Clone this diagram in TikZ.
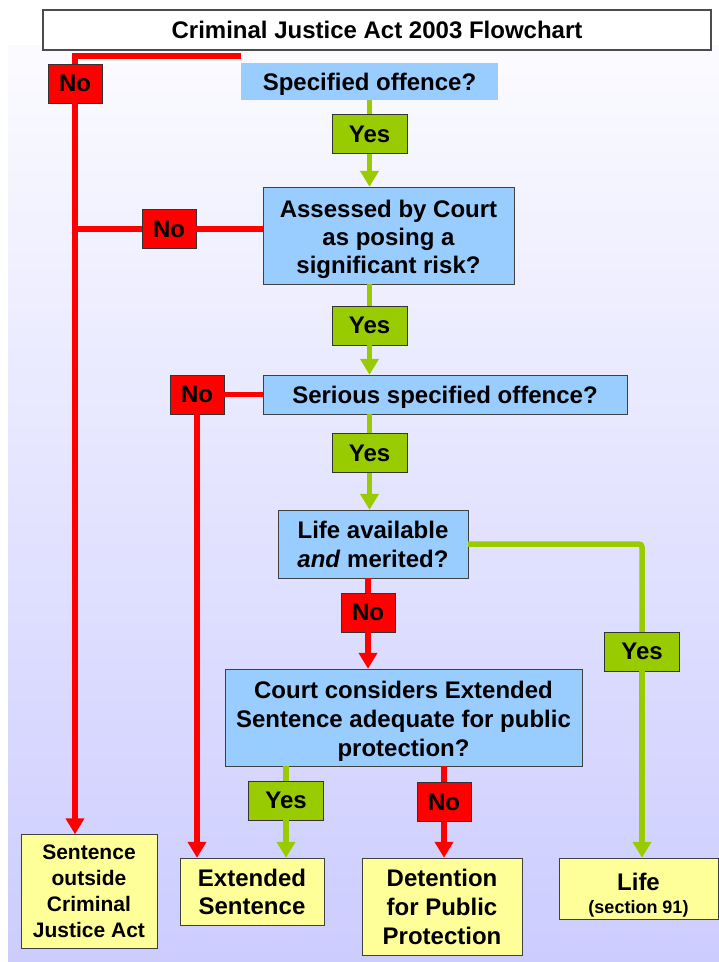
\documentclass[tikz,border=0pt]{standalone}
\usepackage{fontspec}
\setmainfont{Liberation Sans}
\usetikzlibrary{arrows.meta}

\definecolor{qblue}{HTML}{99CCFF}
\definecolor{ygreen}{HTML}{99CC00}
\definecolor{nred}{HTML}{FF0000}
\definecolor{ryellow}{HTML}{FFFF99}
\definecolor{bgtop}{HTML}{FBFBFF}
\definecolor{bgbottom}{HTML}{CCCCFF}

\begin{document}
\begin{tikzpicture}[x=1pt, y=-1pt, >={Triangle[width=18pt,length=16pt]}, font=\bfseries\fontsize{24}{29}\selectfont]
			\tikzstyle{question} = [draw=black!75, fill=qblue, align=center, inner sep=0pt, execute at begin node={\rule{0pt}{23pt}}]
			\tikzstyle{yes} = [draw=black!80, fill=ygreen, minimum width=75pt, minimum height=39pt, inner sep=0pt]
			\tikzstyle{no} = [draw=black!80, fill=nred, minimum width=54pt, minimum height=39pt, inner sep=0pt]
			\tikzstyle{result} = [draw=black!75, fill=ryellow, align=center, inner sep=0pt]
			\tikzstyle{nopath} = [line width=5.5pt, nred]
			\tikzstyle{yespath} = [line width=5.5pt, ygreen]
			\useasboundingbox (0,0) rectangle (719,962);
			\shade[top color=bgtop, bottom color=bgbottom] (8,45) rectangle (719,962);

			\node[draw=black!70, line width=1.5pt, fill=white, minimum width=668pt, minimum height=40pt] (title) at (377,30) {Criminal Justice Act 2003 Flowchart};
			\node[question, draw=none, minimum width=257pt, minimum height=37pt] (specified) at (369.5,81.5) {Specified offence?};
			\node[no] (no1) at (75,83.5) {No};
			\node[yes] (yes1) at (369.5,134) {Yes};
			\node[question, minimum width=251pt, minimum height=97pt] (risk) at (388.5,235.5) {\rule{0pt}{25.5pt}Assessed by Court\\[-1pt]as posing a\\[-1pt]significant risk?};
			\node[no] (no2) at (169,229) {No};
			\node[yes] (yes2) at (369.5,325.5) {Yes};
			\node[question, minimum width=364pt, minimum height=39pt] (serious) at (445,394.5) {Serious specified offence?};
			\node[no] (no3) at (197,394.5) {No};
			\node[yes] (yes3) at (369.5,453) {Yes};
			\node[question, minimum width=190pt, minimum height=68pt] (life) at (373,544) {Life available\\\textit{and} merited?};
			\node[no] (no4) at (368,612.5) {No};
			\node[yes] (yes4) at (642,651.5) {Yes};
			\node[question, minimum width=357pt, minimum height=97pt] (adequate) at (403.5,717.5) {\rule{0pt}{24pt}Court considers Extended\\Sentence adequate for public\\protection?};
			\node[yes] (yes5) at (286,800.5) {Yes};
			\node[no] (no5) at (444,802) {No};
			\node[result, minimum width=136pt, minimum height=114pt, font=\bfseries\fontsize{21}{26}\selectfont] (outside) at (89,891.5) {Sentence\\outside\\Criminal\\Justice Act};
			\node[result, minimum width=144pt, minimum height=67pt, font=\bfseries\fontsize{24}{28}\selectfont] (extended) at (252,891.5) {Extended\\Sentence};
			\node[result, minimum width=160pt, minimum height=97pt] (detention) at (442,906.5) {Detention\\for Public\\Protection};
			\node[result, minimum width=159pt, minimum height=61pt] (lifesec) at (638.5,888.5) {\rule{0pt}{30pt}Life\\[-6pt]{\fontsize{18}{22}\selectfont(section 91)}};
			\coordinate (nostart) at (241,56);

			\path
			(nostart) edge[nopath, to path={-| (\tikztotarget)}] (no1)
			(no1) edge[nopath, ->] (no1 |- outside.north)
			(risk.west |- no2) edge[nopath] (no2)
			(no2) edge[nopath] (no1 |- no2)
			(specified) edge[yespath] (yes1)
			(yes1) edge[yespath, ->] (yes1 |- risk.north)
			(risk.south -| yes2) edge[yespath] (yes2)
			(yes2) edge[yespath, ->] (yes2 |- serious.north)
			(serious) edge[nopath] (no3)
			(no3) edge[nopath, ->] (no3 |- extended.north)
			(serious.south -| yes3) edge[yespath] (yes3)
			(yes3) edge[yespath, ->] (yes3 |- life.north)
			(life.east) edge[yespath, rounded corners=3pt, to path={-| (\tikztotarget)}] (yes4)
			(yes4) edge[yespath, ->] (yes4 |- lifesec.north)
			(life.south -| no4) edge[nopath] (no4)
			(no4) edge[nopath, ->] (no4 |- adequate.north)
			(adequate.south -| yes5) edge[yespath] (yes5)
			(yes5) edge[yespath, ->] (yes5 |- extended.north)
			(adequate.south -| no5) edge[nopath] (no5)
			(no5) edge[nopath, ->] (no5 |- detention.north)
			;

			\end{tikzpicture}
\end{document}
